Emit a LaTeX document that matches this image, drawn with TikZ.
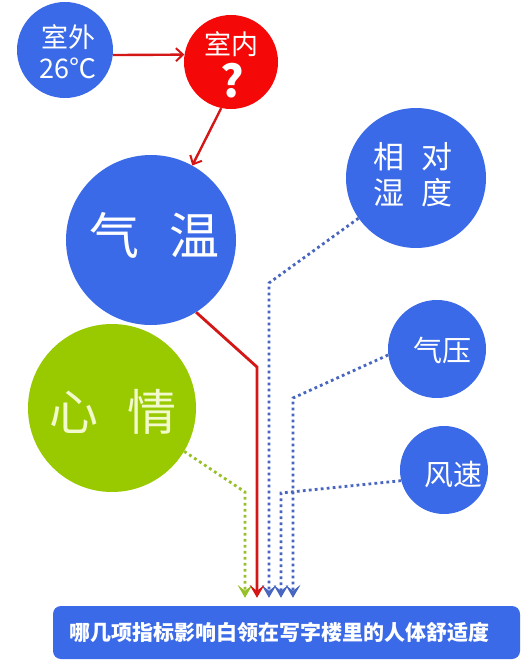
\documentclass[tikz,border=0pt]{standalone}
\usepackage{fontspec}
\newfontfamily\cjk{Noto Sans CJK SC}
\usetikzlibrary{arrows.meta}
\definecolor{cblue}{RGB}{58,106,232}
\definecolor{cred}{RGB}{245,8,8}
\definecolor{ared}{RGB}{212,22,22}
\definecolor{cgreen}{RGB}{153,202,0}
\definecolor{dblue}{RGB}{72,102,192}
\definecolor{dgreen}{RGB}{150,192,40}
\definecolor{paleyel}{RGB}{242,250,205}
\begin{document}
\begin{tikzpicture}[x=1pt,y=-1pt,
  ball/.style={circle,inner sep=0pt,draw=none},
  txt/.style={inner sep=0pt,text=white,font=\cjk,align=center},
  redarr/.style={draw=ared,line width=2.4pt,-{Straight Barb[length=7pt,width=13pt,line width=2pt]}},
  tipv/.tip={Stealth[length=13pt,width=15pt,inset=6pt,line width=0pt]},
  feed/.style={line width=2.8pt,-tipv,shorten >=8pt},
  dotline/.style={feed,dash pattern=on 2.8pt off 3.2pt}]
\useasboundingbox (0,0) rectangle (526,661);
% circles
\node[ball,fill=cblue,minimum size=96pt] (out) at (65,50) {};
\node[txt,font=\cjk\fontsize{27}{31}\selectfont] (outt) at (68,52) {室外\\26℃};
\node[ball,fill=cred,minimum size=94pt] (in) at (231,62) {};
\node[txt,font=\cjk\fontsize{27}{27}\selectfont] (int) at (231,44) {室内};
\node[txt,font=\cjk\bfseries\fontsize{44}{44}\selectfont] (intq) at (232,81) {?};
\node[ball,fill=cblue,minimum size=170pt] (qw) at (151,240) {};
\node[txt,font=\cjk\fontsize{50}{50}\selectfont] (qwt) at (154,235) {气\hspace{30pt}温};
\node[ball,fill=cblue,minimum size=140pt] (rh) at (416,178) {};
\node[txt,font=\cjk\fontsize{31}{36}\selectfont] (rht) at (413,175) {相\hspace{17pt}对\\湿\hspace{17pt}度};
\node[ball,fill=cblue,minimum size=98pt] (qy) at (437,349) {};
\node[txt,font=\cjk\fontsize{29}{29}\selectfont] (qyt) at (442,350) {气压};
\node[ball,fill=cblue,minimum size=88pt] (fs) at (444,470) {};
\node[txt,font=\cjk\fontsize{29}{29}\selectfont] (fst) at (453,475) {风速};
\node[ball,fill=cgreen,minimum size=168pt] (xq) at (112,408) {};
\node[txt,text=paleyel,font=\cjk\fontsize{49}{49}\selectfont] (xqt) at (113,412) {心\hspace{29pt}情};
% bottom box
\node[draw=none,fill=cblue,rounded corners=8pt,minimum width=467pt,minimum height=53pt,inner sep=0pt] (q) at (286.5,632.5) {};
\node[txt,font=\cjk\bfseries\fontsize{21}{21}\selectfont] (qt) at (279,633) {哪几项指标影响白领在写字楼里的人体舒适度};
% connectors
\draw[redarr] (out.-6) -- (in.171);
\draw[redarr] (in.258) -- (qw.61);
\draw[dotline,draw=dgreen] (xq.-31) -- (245,492) -- (245,492 |- q.north);
\draw[dotline,draw=dblue] (rh.-145) -- (269,283) -- (269,283 |- q.north);
\draw[dotline,draw=dblue] (fs.-166) -- (281,493) -- (281,493 |- q.north);
\draw[dotline,draw=dblue] (qy.-173) -- (293,398) -- (293,398 |- q.north);
\draw[feed,draw=ared] (qw.-58) -- (257,367) -- (257,367 |- q.north);
\end{tikzpicture}
\end{document}
